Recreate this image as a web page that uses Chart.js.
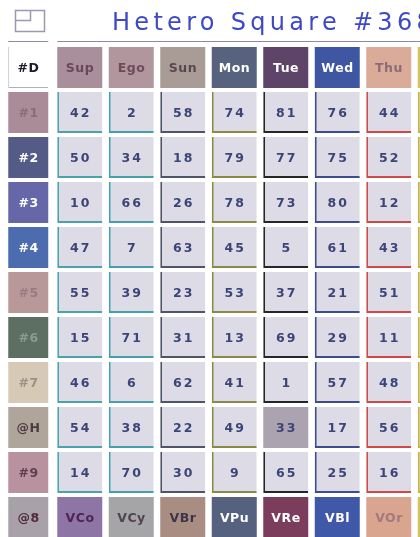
<!DOCTYPE html>
<html><head><meta charset="utf-8">
<script src="https://cdn.jsdelivr.net/npm/chart.js@4/dist/chart.umd.min.js"></script>
<style>
html,body{margin:0;padding:0;overflow:hidden;background:#fff;width:420px;height:537px}
#wrap{position:relative;width:466px;height:541px}
</style></head><body><div id="wrap"><canvas id="c" width="466" height="541"></canvas></div>
<script>
// ---------- data ----------
const titleText = 'Hetero Square #368';
const cornerLabel = '#D';
const columns = ['Sup','Ego','Sun','Mon','Tue','Wed','Thu','Fri'];
const rowLabels = ['#1','#2','#3','#4','#5','#6','#7','@H','#9'];
const footerLabel = '@8';
const footerLabels = ['VCo','VCy','VBr','VPu','VRe','VBl','VOr',''];
const row1 = [42, 2, 58, 74, 81, 76, 44, null];
const row2 = [50, 34, 18, 79, 77, 75, 52, null];
const row3 = [10, 66, 26, 78, 73, 80, 12, null];
const row4 = [47, 7, 63, 45, 5, 61, 43, null];
const row5 = [55, 39, 23, 53, 37, 21, 51, null];
const row6 = [15, 71, 31, 13, 69, 29, 11, null];
const row7 = [46, 6, 62, 41, 1, 57, 48, null];
const row8 = [54, 38, 22, 49, 33, 17, 56, null];
const row9 = [14, 70, 30, 9, 65, 25, 16, null];
const rows = [row1,row2,row3,row4,row5,row6,row7,row8,row9];
const highlightCell = {row:'@H', col:'Tue'};

// ---------- styles ----------
const colHeadBg   = ['#a98f9c','#b2969e','#a99c96','#56627e','#5e4468','#3f57a2','#d9ab98','#d6c060'];
const colHeadText = ['#6a4658','#6e4a58','#5a4650','#ffffff','#ffffff','#ffffff','#8c6c78','#6a5a30'];
const colBorder   = ['#4aa3a8','#46a0ac','#505468','#8a8a44','#262626','#3c4c8c','#d04848','#c8b040'];
const rowHeadBg   = ['#a98c98','#535b86','#6567a8','#4d6cb0','#b89898','#5d6e63','#d6cab6','#b0a59a','#b8929e'];
const rowHeadText = ['#8a6a7c','#ffffff','#ffffff','#ffffff','#9a7a84','#8a9c92','#9c9284','#4c3a44','#5e3e50'];
const footHeadBg = '#a9a1aa', footHeadText = '#4e2a3c';
const footBg   = ['#8d75a6','#a5a4a6','#a98d82','#56607f','#7c3d5d','#4058a8','#d9a58e','#d6c060'];
const footText = ['#4e2452','#4e4450','#3e3448','#ffffff','#ffffff','#ffffff','#a27a7e','#6a5a30'];
const cellBg = '#dddce6', cellText = '#3c4478', highlightBg = '#aca3b0';

// ---------- build datasets ----------
const xLabels = [cornerLabel, ...columns];
const half = 0.456; // half cell height in row units
const span = r => [r - half, r + half];

const headColData = [{x: cornerLabel, y: span(0)}];
const headColBg = ['#ffffff'], headColTxt = ['#1c1c2c'], headColTexts = [cornerLabel];
const headColBorderW = [{left:1,bottom:1,top:0,right:0}], headColBorderC = ['#a8b4c4'];
rowLabels.forEach((l,i)=>{ headColData.push({x: cornerLabel, y: span(i+1)}); headColBg.push(rowHeadBg[i]); headColTxt.push(rowHeadText[i]); headColTexts.push(l); headColBorderW.push(0); headColBorderC.push('rgba(0,0,0,0)'); });
headColData.push({x: cornerLabel, y: span(rows.length+1)}); headColBg.push(footHeadBg); headColTxt.push(footHeadText); headColTexts.push(footerLabel); headColBorderW.push(0); headColBorderC.push('rgba(0,0,0,0)');

const topData = columns.map(c=>({x:c, y: span(0)}));
const footData = columns.map(c=>({x:c, y: span(rows.length+1)}));

const cellData = [], cellBgs = [], cellTexts = [], cellBorderC = [], cellBorderW = [];
rows.forEach((r,ri)=>{
  r.forEach((v,ci)=>{
    cellData.push({x: columns[ci], y: span(ri+1)});
    const hl = rowLabels[ri]===highlightCell.row && columns[ci]===highlightCell.col;
    cellBgs.push(hl ? highlightBg : cellBg);
    cellTexts.push(v==null ? '' : String(v));
    cellBorderC.push(colBorder[ci]);
    cellBorderW.push(hl ? 0 : {left:2,bottom:2,top:0,right:0});
  });
});

const PITCH = 51.5;
const datasets = [
  {label:'rowHeads', data: headColData, backgroundColor: headColBg, borderColor: headColBorderC, borderWidth: headColBorderW,
   barPercentage: 40/PITCH, texts: headColTexts, textColors: headColTxt, font:'bold 12.5px "DejaVu Sans"', spacing:0.5},
  {label:'colHeads', data: topData, backgroundColor: colHeadBg, borderWidth:0,
   barPercentage: 45/PITCH, texts: columns, textColors: colHeadText, font:'bold 12.5px "DejaVu Sans"', spacing:0.5},
  {label:'footer', data: footData, backgroundColor: footBg, borderWidth:0,
   barPercentage: 45/PITCH, texts: footerLabels, textColors: footText, font:'bold 12.5px "DejaVu Sans"', spacing:0.5},
  {label:'cells', data: cellData, backgroundColor: cellBgs, borderColor: cellBorderC, borderWidth: cellBorderW,
   barPercentage: 45/PITCH, texts: cellTexts, textColors: cellTexts.map(()=>cellText), font:'bold 12.5px "DejaVu Sans"', spacing:2}
];
datasets.forEach(d=>{ d.grouped=false; d.categoryPercentage=1; d.borderSkipped=false; });

const labelPlugin = {
  id:'cellLabels',
  afterDatasetsDraw(chart){
    const ctx = chart.ctx;
    chart.data.datasets.forEach((ds,i)=>{
      const meta = chart.getDatasetMeta(i);
      meta.data.forEach((el,j)=>{
        const t = ds.texts[j]; if(!t) return;
        const p = el.getCenterPoint();
        ctx.save();
        ctx.font = ds.font; ctx.fillStyle = ds.textColors[j];
        ctx.textAlign='center'; ctx.textBaseline='middle';
        ctx.letterSpacing = ds.spacing+'px';
        ctx.fillText(t, p.x + ds.spacing/2, p.y + 1);
        ctx.restore();
      });
    });
  }
};

const decorPlugin = {
  id:'decor',
  afterDraw(chart){
    const ctx = chart.ctx, a = chart.chartArea;
    ctx.save();
    // icon
    ctx.strokeStyle = '#9c98b4'; ctx.lineWidth = 1.5;
    ctx.strokeRect(15.5, 10.5, 29, 21);
    ctx.beginPath(); ctx.moveTo(15.5, 20.5); ctx.lineTo(30.5, 20.5); ctx.lineTo(30.5, 10.5); ctx.stroke();
    // title
    ctx.font = '24px "DejaVu Sans"'; ctx.fillStyle = '#3d49c6';
    ctx.textAlign='left'; ctx.textBaseline='alphabetic'; ctx.letterSpacing='4.3px';
    ctx.fillText(titleText, 112, 30);
    // header rule
    const m0 = chart.getDatasetMeta(0).data[0], m1 = chart.getDatasetMeta(1).data[0];
    ctx.letterSpacing='0px';
    ctx.strokeStyle = '#8e88a8'; ctx.lineWidth = 1;
    ctx.beginPath();
    ctx.moveTo(m0.x - m0.width/2, a.top - 3.5); ctx.lineTo(m0.x + m0.width/2, a.top - 3.5);
    ctx.moveTo(m1.x - m1.width/2, a.top - 3.5); ctx.lineTo(chart.width, a.top - 3.5);
    ctx.stroke();
    ctx.restore();
  }
};

new Chart(document.getElementById('c'), {
  type:'bar',
  data:{labels: xLabels, datasets},
  options:{
    responsive:false, animation:false, devicePixelRatio:1,
    layout:{padding:{left:2.5, right:0, top:45, bottom:1}},
    plugins:{legend:{display:false}, title:{display:false}, tooltip:{enabled:false}},
    scales:{
      x:{type:'category', display:false, offset:true, grid:{display:false}},
      y:{type:'linear', display:false, reverse:true, min:-0.5, max: rows.length+1.5}
    }
  },
  plugins:[labelPlugin, decorPlugin]
});
</script>
</body></html>
